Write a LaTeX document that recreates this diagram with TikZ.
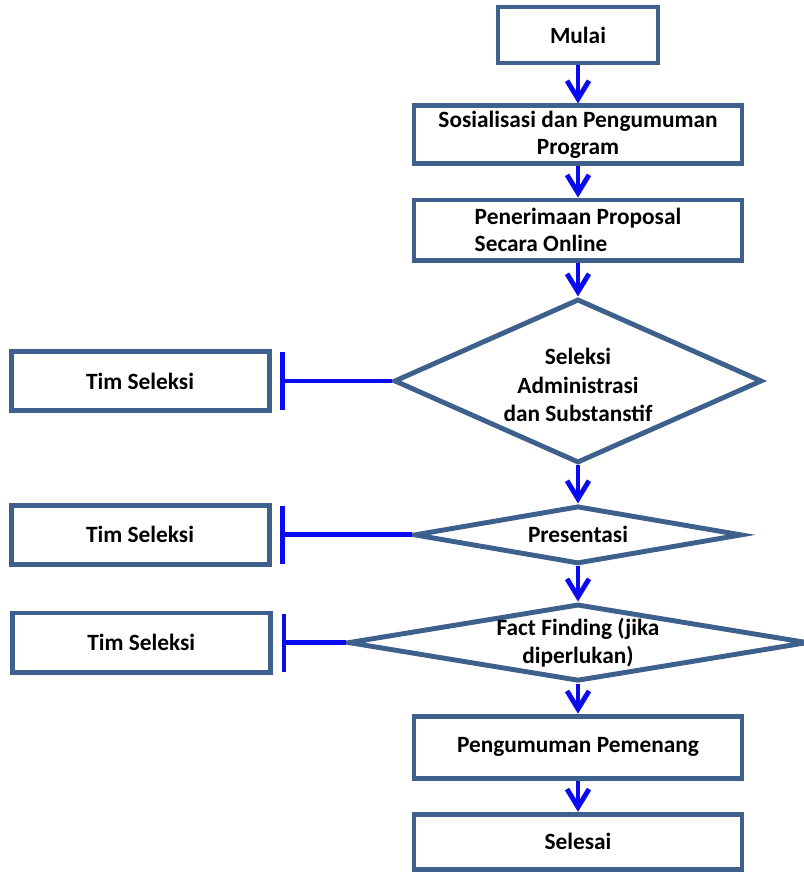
\documentclass[tikz,border=0pt]{standalone}
\usepackage{fontspec}
\setmainfont{Carlito}
\usetikzlibrary{arrows.meta, positioning, shapes.geometric}
\definecolor{boxblue}{RGB}{62,96,140}
\definecolor{flowblue}{RGB}{10,10,240}

\begin{document}
\begin{tikzpicture}[
    node distance=0.9cm,
    box/.style={rectangle, draw=boxblue, line width=3.5pt, fill=white,
                minimum width=8.2cm, minimum height=1.45cm, inner sep=2pt,
                align=center, font=\fontsize{16.6}{19.5}\selectfont\bfseries},
    timbox/.style={box, minimum width=6.45cm, minimum height=1.48cm},
    dec/.style={diamond, draw=boxblue, line width=3.5pt, inner sep=0pt},
    txt/.style={align=center, font=\fontsize{16.6}{20}\selectfont\bfseries},
    flow/.style={-{Straight Barb[length=0.45cm, width=0.55cm]}, line width=3.5pt, flowblue},
    tee/.style={-{Bar[width=1.45cm]}, line width=3.5pt, flowblue, shorten >=0.22cm},
]
    \useasboundingbox (0,0) rectangle (20.1,-21.8);

    \node[box, minimum width=4cm, minimum height=1.4cm] (mulai) at (14.45,-0.875) {Mulai};
    \node[box, below=0.95cm of mulai, minimum height=1.43cm] (sosial) {Sosialisasi dan Pengumuman\\Program};
    \node[box, below=0.8cm of sosial, minimum height=1.5cm, align=left] (terima) {Penerimaan Proposal\\Secara Online};
    \node[dec, below=0.85cm of terima, minimum width=9.2cm, minimum height=4.1cm,
          label={[txt, yshift=-0.1cm]center:Seleksi\\Administrasi\\dan Substanstif}] (seleksi) {};
    \node[dec, below=0.95cm of seleksi, minimum width=8.2cm, minimum height=1.45cm,
          label={[txt]center:Presentasi}] (presentasi) {};
    \node[dec, below=0.88cm of presentasi, minimum width=11.5cm, minimum height=1.93cm,
          label={[txt]center:Fact Finding (jika\\diperlukan)}] (fakta) {};
    \node[box, below=0.75cm of fakta, minimum height=1.55cm] (umum) {Pengumuman Pemenang};
    \node[box, below=0.78cm of umum, minimum height=1.38cm] (selesai) {Selesai};

    \node[timbox, left=3cm of seleksi] (tim1) {Tim Seleksi};
    \node[timbox, left=3.5cm of presentasi] (tim2) {Tim Seleksi};
    \node[timbox, left=1.82cm of fakta] (tim3) {Tim Seleksi};

    \draw[flow] (mulai) -- (sosial);
    \draw[flow] (sosial) -- (terima);
    \draw[flow] (terima) -- (seleksi);
    \draw[flow] (seleksi) -- (presentasi);
    \draw[flow] (presentasi) -- (fakta);
    \draw[flow] (fakta) -- (umum);
    \draw[flow] (umum) -- (selesai);

    \draw[tee] (seleksi.west) -- (tim1.east);
    \draw[tee] (presentasi.west) -- (tim2.east);
    \draw[tee] (fakta.west) -- (tim3.east);
\end{tikzpicture}
\end{document}
